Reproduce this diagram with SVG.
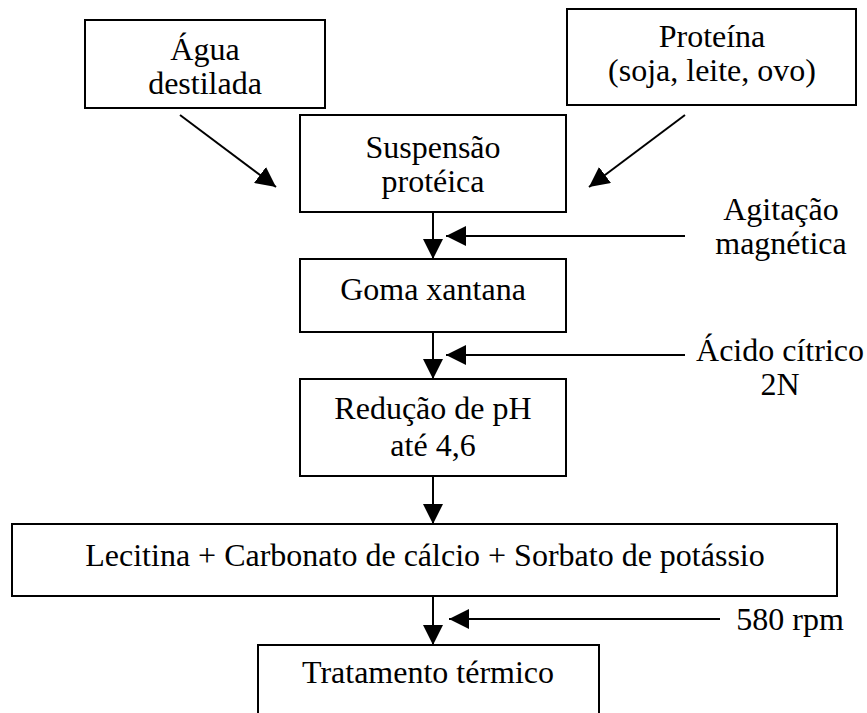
<svg xmlns="http://www.w3.org/2000/svg" width="867" height="713" viewBox="0 0 867 713">
<style>
.box{fill:#fff;stroke:#000;stroke-width:2}
.t{font-family:"Liberation Serif","Times New Roman",serif;font-size:32px;fill:#000;text-anchor:middle}
.c{stroke:#000;stroke-width:2;fill:none}
</style>
<defs>
<marker id="ah" markerUnits="userSpaceOnUse" markerWidth="20" markerHeight="20" viewBox="0 0 20 20" refX="20" refY="10" orient="auto">
<path d="M0,0 L20,10 L0,20 z" fill="#000"/>
</marker>
</defs>
<rect width="867" height="713" fill="#fff"/>
<g id="agua">
<rect class="box" x="85" y="20" width="240" height="88"/>
<text class="t" x="205" y="60">Água</text>
<text class="t" x="205" y="94">destilada</text>
</g>
<g id="proteina">
<rect class="box" x="567" y="9" width="289" height="96"/>
<text class="t" x="712" y="47">Proteína</text>
<text class="t" x="712" y="81">(soja, leite, ovo)</text>
</g>
<g id="suspensao">
<rect class="box" x="300" y="115" width="266" height="97"/>
<text class="t" x="433" y="158">Suspensão</text>
<text class="t" x="433" y="192">protéica</text>
</g>
<g id="agitacao">
<text class="t" x="781" y="220">Agitação</text>
<text class="t" x="781" y="254">magnética</text>
</g>
<g id="goma">
<rect class="box" x="300" y="259" width="266" height="73"/>
<text class="t" x="433" y="300">Goma xantana</text>
</g>
<g id="acido">
<text class="t" x="780" y="361">Ácido cítrico</text>
<text class="t" x="780" y="395">2N</text>
</g>
<g id="reducao">
<rect class="box" x="300" y="379" width="266" height="97"/>
<text class="t" x="433" y="419">Redução de pH</text>
<text class="t" x="433" y="456">até 4,6</text>
</g>
<g id="lecitina">
<rect class="box" x="12" y="524" width="825" height="72"/>
<text class="t" x="425" y="566">Lecitina + Carbonato de cálcio + Sorbato de potássio</text>
</g>
<g id="rpm">
<text class="t" x="790" y="630">580 rpm</text>
</g>
<g id="tratamento">
<path class="c" d="M258,714 V645 H599 V714"/>
<text class="t" x="428" y="683">Tratamento térmico</text>
</g>
<g id="connectors">
<line class="c" x1="180" y1="115" x2="276" y2="187" marker-end="url(#ah)"/>
<line class="c" x1="685" y1="115" x2="589" y2="187" marker-end="url(#ah)"/>
<line class="c" x1="433" y1="212" x2="433" y2="259" marker-end="url(#ah)"/>
<line class="c" x1="685" y1="236" x2="446" y2="236" marker-end="url(#ah)"/>
<line class="c" x1="433" y1="332" x2="433" y2="379" marker-end="url(#ah)"/>
<line class="c" x1="685" y1="355" x2="446" y2="355" marker-end="url(#ah)"/>
<line class="c" x1="433" y1="476" x2="433" y2="524" marker-end="url(#ah)"/>
<line class="c" x1="433" y1="596" x2="433" y2="645" marker-end="url(#ah)"/>
<line class="c" x1="720" y1="619" x2="449" y2="619" marker-end="url(#ah)"/>
</g>
</svg>
